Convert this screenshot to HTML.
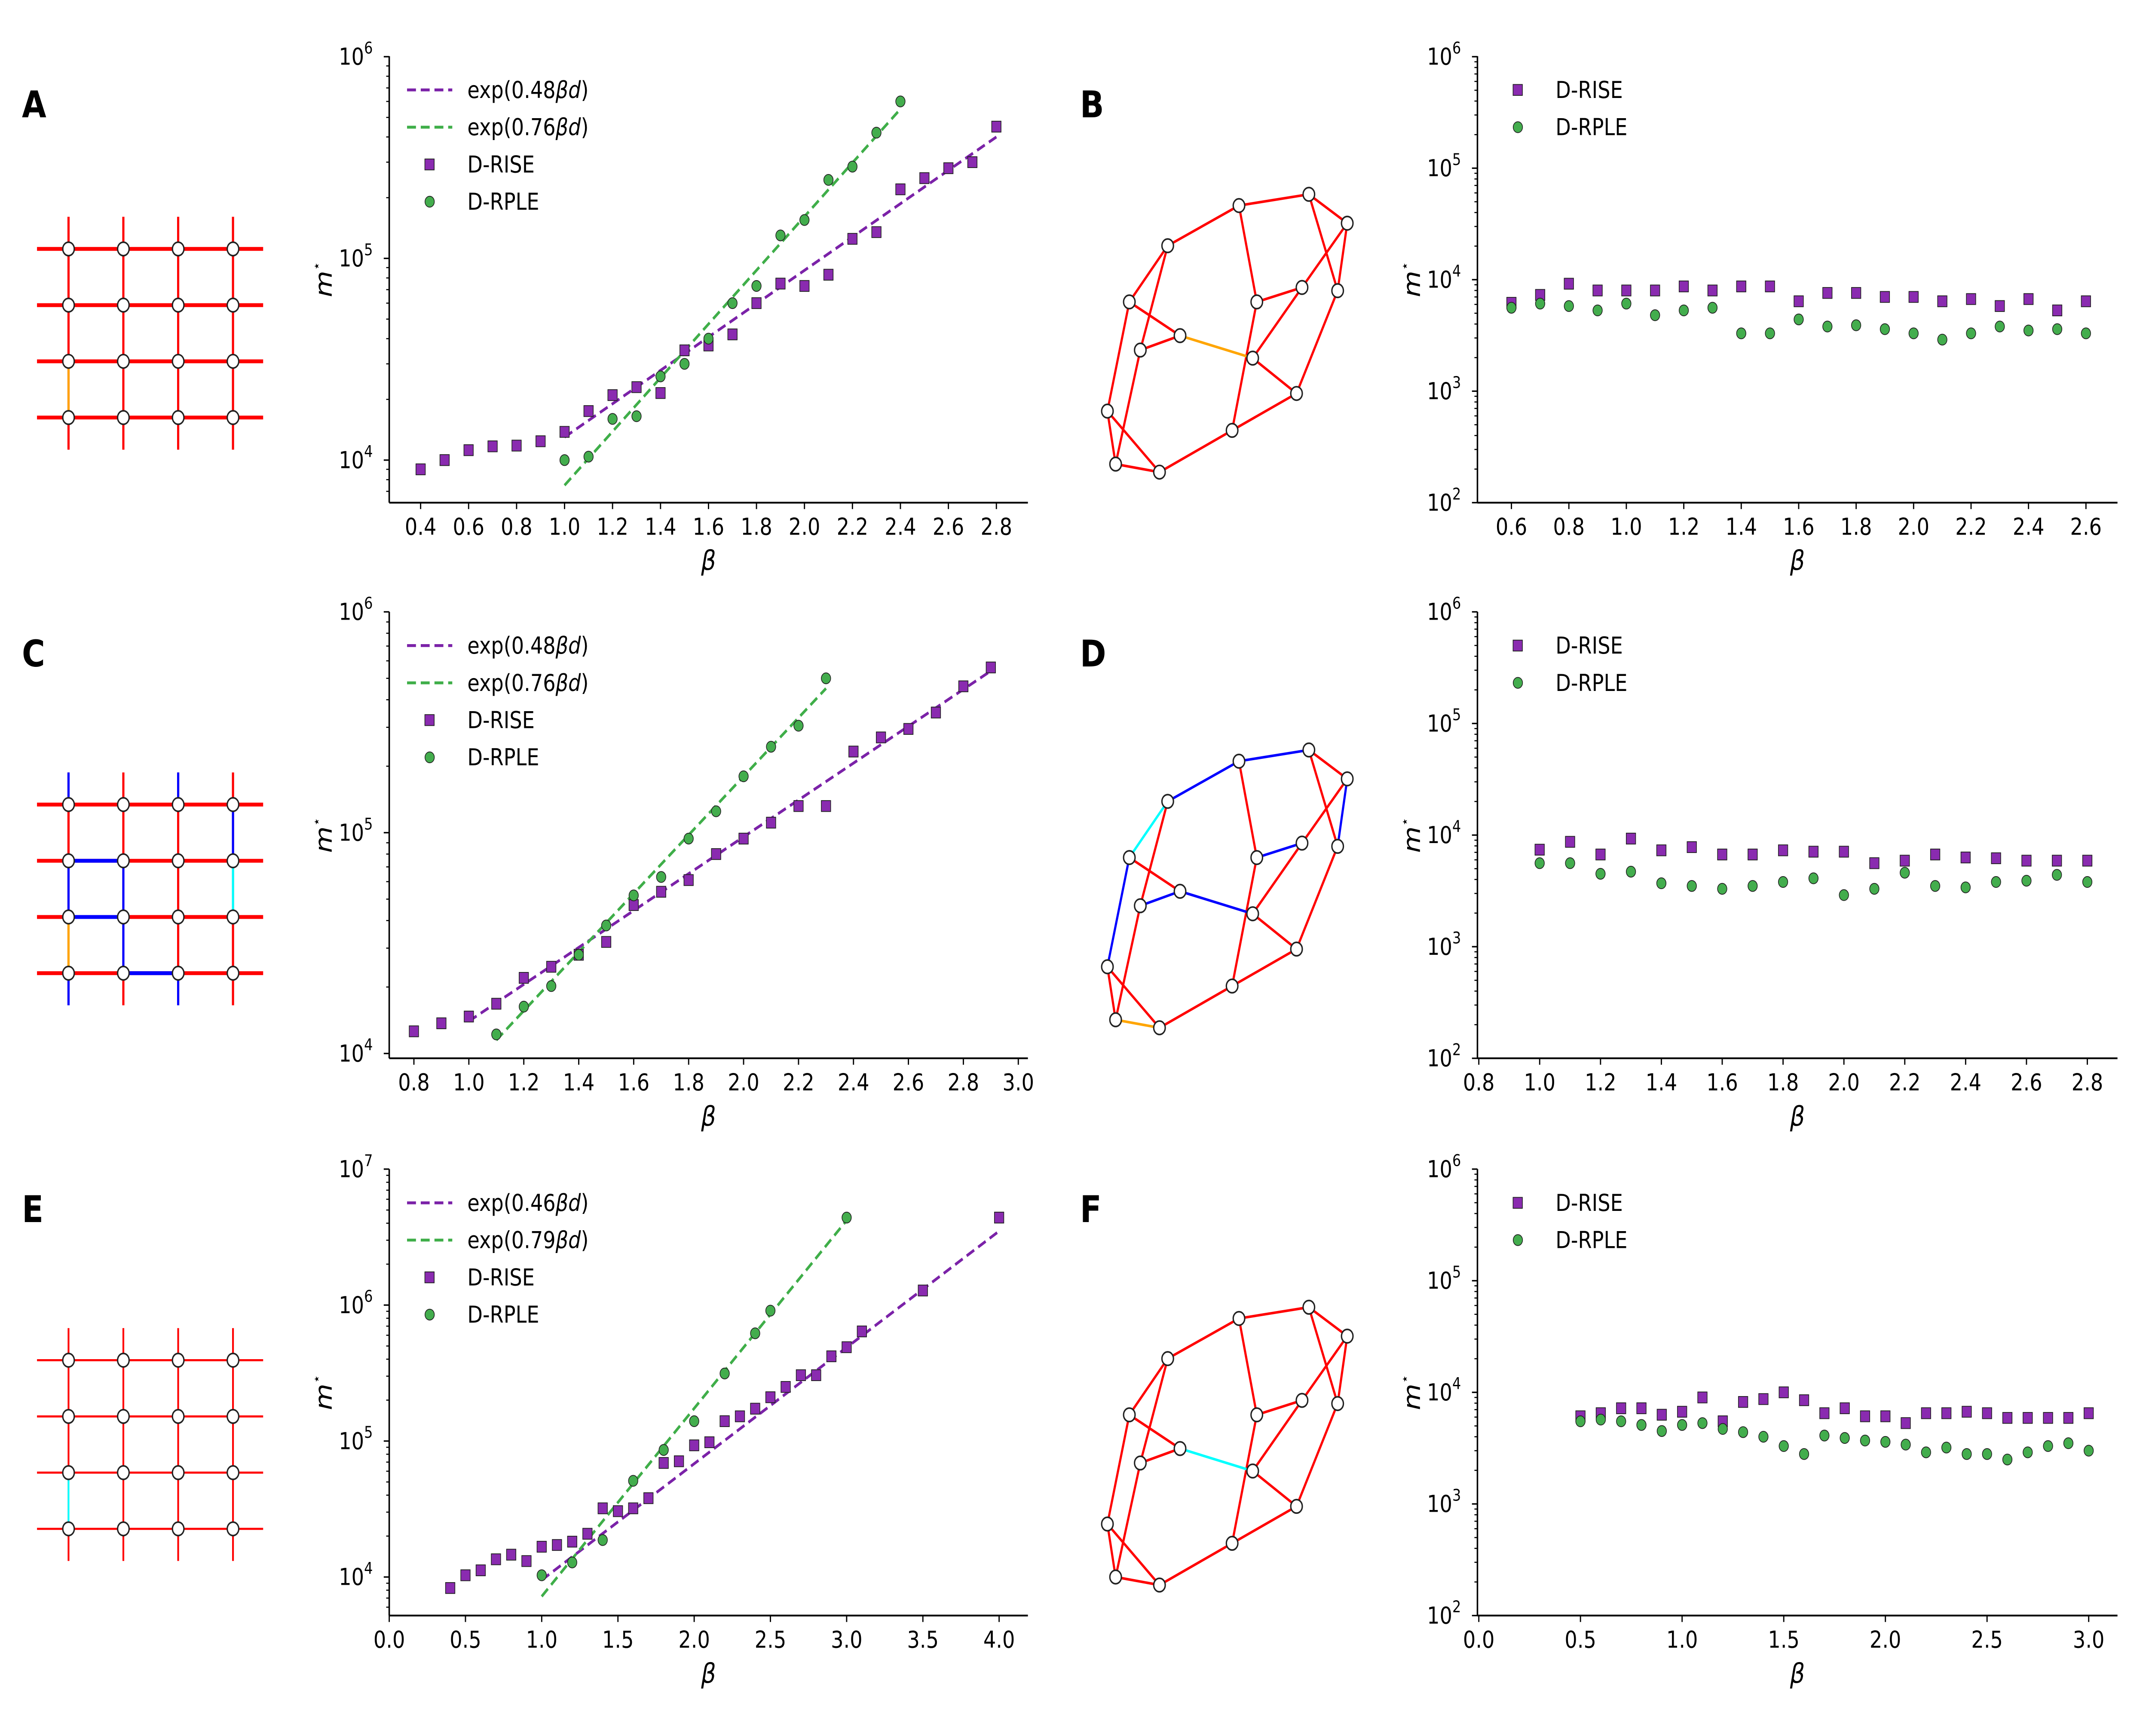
<!DOCTYPE html>
<html><head><meta charset="utf-8">
<style>
html,body{margin:0;padding:0;background:#fff;overflow:hidden;width:100%;height:100%;}
svg{display:block;position:fixed;left:0;top:0;width:100vw;height:100vh;}
text{font-family:"DejaVu Sans","Liberation Sans",sans-serif;fill:#000;}
</style></head>
<body>
<svg id="fig" viewBox="0 0 1568 1081" preserveAspectRatio="none" xmlns="http://www.w3.org/2000/svg">
<rect width="1568" height="1081" fill="#fff"/>
<g id="graphs"></g>
<g id="charts"></g>
</svg>
<script>
// ---------- data ----------
const aBeta = [0.4,0.5,0.6,0.7,0.8,0.9,1.0,1.1,1.2,1.3,1.4,1.5,1.6,1.7,1.8,1.9,2.0,2.1,2.2,2.3,2.4,2.5,2.6,2.7,2.8];
const aRise = [9000,10000,11200,11700,11800,12400,13800,17500,21000,23000,21500,35000,37000,42000,60000,75000,73000,83000,125000,135000,220000,250000,280000,300000,450000];
const aRpleBeta = [1.0,1.1,1.2,1.3,1.4,1.5,1.6,1.7,1.8,1.9,2.0,2.1,2.2,2.3,2.4];
const aRple = [10000,10400,16000,16500,26000,30000,40000,60000,73000,130000,155000,245000,285000,420000,600000];
const aFitRise = [[1.0,13000],[2.8,400000]];
const aFitRple = [[1.0,7500],[2.4,550000]];

const bBeta = [0.6,0.7,0.8,0.9,1.0,1.1,1.2,1.3,1.4,1.5,1.6,1.7,1.8,1.9,2.0,2.1,2.2,2.3,2.4,2.5,2.6];
const bRise = [6200,7300,9200,8000,8000,8000,8700,8000,8700,8700,6400,7600,7600,7000,7000,6400,6700,5800,6700,5300,6400];
const bRple = [5600,6100,5800,5300,6100,4800,5300,5600,3300,3300,4400,3800,3900,3600,3300,2900,3300,3800,3500,3600,3300];

const cBeta = [0.8,0.9,1.0,1.1,1.2,1.3,1.4,1.5,1.6,1.7,1.8,1.9,2.0,2.1,2.2,2.3,2.4,2.5,2.6,2.7,2.8,2.9];
const cRise = [12600,13700,14700,16800,22000,24700,28000,32000,47000,54000,61000,80000,94000,111000,132000,132000,233000,270000,295000,350000,460000,560000];
const cRpleBeta = [1.1,1.2,1.3,1.4,1.5,1.6,1.7,1.8,1.9,2.0,2.1,2.2,2.3];
const cRple = [12200,16300,20200,28000,38000,52000,63000,94000,125000,180000,245000,305000,500000];
const cFitRise = [[1.0,14000],[2.9,540000]];
const cFitRple = [[1.1,11500],[2.3,450000]];

const dBeta = [1.0,1.1,1.2,1.3,1.4,1.5,1.6,1.7,1.8,1.9,2.0,2.1,2.2,2.3,2.4,2.5,2.6,2.7,2.8];
const dRise = [7400,8700,6700,9300,7300,7800,6700,6700,7300,7100,7100,5600,5900,6700,6300,6200,5900,5900,5900];
const dRple = [5600,5600,4500,4700,3700,3500,3300,3500,3800,4100,2900,3300,4600,3500,3400,3800,3900,4400,3800];

const eBeta = [0.4,0.5,0.6,0.7,0.8,0.9,1.0,1.1,1.2,1.3,1.4,1.5,1.6,1.7,1.8,1.9,2.0,2.1,2.2,2.3,2.4,2.5,2.6,2.7,2.8,2.9,3.0,3.1,3.5,4.0];
const eRise = [8300,10300,11200,13500,14600,13100,16700,17200,18200,20800,32000,30500,32000,38000,69000,71000,93000,98000,140000,152000,173000,210000,250000,305000,305000,420000,490000,640000,1280000,4400000];
const eRpleBeta = [1.0,1.2,1.4,1.6,1.8,2.0,2.2,2.4,2.5,3.0];
const eRple = [10300,12800,18700,51000,86000,140000,314000,620000,910000,4400000];
const eFitRise = [[1.0,9500],[4.0,3500000]];
const eFitRple = [[1.0,7200],[3.0,4200000]];

const fBeta = [0.5,0.6,0.7,0.8,0.9,1.0,1.1,1.2,1.3,1.4,1.5,1.6,1.7,1.8,1.9,2.0,2.1,2.2,2.3,2.4,2.5,2.6,2.7,2.8,2.9,3.0];
const fRise = [6100,6500,7200,7200,6300,6700,9000,5500,8200,8700,10000,8500,6500,7200,6100,6100,5300,6500,6500,6700,6500,5900,5900,5900,5900,6500];
const fRple = [5500,5700,5500,5100,4500,5100,5300,4700,4400,4000,3300,2800,4100,3900,3700,3600,3400,2900,3200,2800,2800,2500,2900,3300,3500,3000];

const xTicksA = ["0.4","0.6","0.8","1.0","1.2","1.4","1.6","1.8","2.0","2.2","2.4","2.6","2.8"];
const xTicksB = ["0.6","0.8","1.0","1.2","1.4","1.6","1.8","2.0","2.2","2.4","2.6"];
const xTicksC = ["0.8","1.0","1.2","1.4","1.6","1.8","2.0","2.2","2.4","2.6","2.8","3.0"];
const xTicksD = ["0.8","1.0","1.2","1.4","1.6","1.8","2.0","2.2","2.4","2.6","2.8"];
const xTicksE = ["0.0","0.5","1.0","1.5","2.0","2.5","3.0","3.5","4.0"];
const xTicksF = ["0.0","0.5","1.0","1.5","2.0","2.5","3.0"];
const yDecA = [4,5,6], yDecB=[2,3,4,5,6], yDecC=[4,5,6], yDecE=[4,5,6,7];

const legFit = {A:["0.48","0.76"], C:["0.48","0.76"], E:["0.46","0.79"]};

// ---------- drawing ----------
const NS="http://www.w3.org/2000/svg";
const PURPLE="#8a2bb0", GREEN="#43ad4d", FPURPLE="#7b22a8", FGREEN="#3fae49";
function mk(tag,attrs,parent){const e=document.createElementNS(NS,tag);for(const k in attrs)e.setAttribute(k,attrs[k]);parent.appendChild(e);return e;}
const charts=document.getElementById('charts');

function panel(cfg){
  const g=mk('g',{},charts);
  
  
  const X=v=>cfg.xa[1]+(v-cfg.xa[0])*(cfg.xb[1]-cfg.xa[1])/(cfg.xb[0]-cfg.xa[0]);
  const YL=l=>cfg.ya[1]+(l-cfg.ya[0])*(cfg.yb[1]-cfg.ya[1])/(cfg.yb[0]-cfg.ya[0]);
  const ax=mk('g',{},g);
  
  
  mk('line',{x1:cfg.L,y1:cfg.T,x2:cfg.L,y2:cfg.B,stroke:'#000','stroke-width':1.1},ax);
  mk('line',{x1:cfg.L,y1:cfg.B,x2:cfg.R,y2:cfg.B,stroke:'#000','stroke-width':1.1},ax);
  cfg.xt.forEach(s=>{const v=parseFloat(s),px=X(v);
    mk('line',{x1:px,y1:cfg.B,x2:px,y2:cfg.B+4,stroke:'#000','stroke-width':0.9},ax);
    const t=mk('text',{x:px,y:cfg.B+20,'font-size':14.5,'text-anchor':'middle'},ax);t.textContent=s;
    
    
  });
  const lmin=cfg.ya[0]+(cfg.B-cfg.ya[1])/((cfg.yb[1]-cfg.ya[1])/(cfg.yb[0]-cfg.ya[0]));
  cfg.yd.forEach(d=>{const py=YL(d);
    mk('line',{x1:cfg.L-4,y1:py,x2:cfg.L,y2:py,stroke:'#000','stroke-width':0.9},ax);
    const t=mk('text',{x:cfg.L-12,y:py+5,'font-size':14.5,'text-anchor':'end'},ax);
    
    
    t.appendChild(document.createTextNode('10'));
    const s=mk('tspan',{'font-size':10,dy:-7},t);s.textContent=String(d);
  });
  const dmax=cfg.yd[cfg.yd.length-1];
  for(let d=Math.floor(lmin);d<dmax;d++){for(let k=2;k<10;k++){const l=d+Math.log10(k);if(l<lmin)continue;const py=YL(l);
    mk('line',{x1:cfg.L-2.2,y1:py,x2:cfg.L,y2:py,stroke:'#000','stroke-width':0.7},ax);}}
  const yl=mk('text',{x:0,y:0,'font-size':17,'font-style':'italic','text-anchor':'middle',transform:`translate(${cfg.L-42},${(cfg.T+cfg.B)/2}) rotate(-90)`},g);
  
  
  yl.appendChild(document.createTextNode('m'));
  const st=mk('tspan',{'font-size':9,dy:-8,'font-style':'normal'},yl);st.textContent='\u22C6';
  const xl=mk('text',{x:(cfg.L+cfg.R)/2,y:cfg.B+42,'font-size':17,'font-style':'italic','text-anchor':'middle'},g);
  xl.textContent='\u03B2';
  
  
  const dash='6.5,3.5';
  if(cfg.fitR){mk('line',{x1:X(cfg.fitR[0][0]),y1:YL(Math.log10(cfg.fitR[0][1])),x2:X(cfg.fitR[1][0]),y2:YL(Math.log10(cfg.fitR[1][1])),stroke:FPURPLE,'stroke-width':1.8,'stroke-dasharray':dash},g);}
  if(cfg.fitP){mk('line',{x1:X(cfg.fitP[0][0]),y1:YL(Math.log10(cfg.fitP[0][1])),x2:X(cfg.fitP[1][0]),y2:YL(Math.log10(cfg.fitP[1][1])),stroke:FGREEN,'stroke-width':1.8,'stroke-dasharray':dash},g);}
  cfg.rb.forEach((b,i)=>{const r=mk('rect',{x:X(b)-3.4,y:YL(Math.log10(cfg.rv[i]))-3.4,width:6.8,height:6.8,fill:PURPLE,stroke:'#222','stroke-width':0.5},g);
    
    });
  cfg.pb.forEach((b,i)=>{const c=mk('circle',{cx:X(b),cy:YL(Math.log10(cfg.pv[i])),r:3.4,fill:GREEN,stroke:'#222','stroke-width':0.5},g);
    
    });
  const lg=mk('g',{},g);
  
  
  let ly=cfg.T+21, lx=cfg.L+13;
  const items=[];
  if(cfg.fit){items.push(['line',FPURPLE,cfg.fit[0]]);items.push(['line',FGREEN,cfg.fit[1]]);}
  items.push(['sq',PURPLE,'D-RISE']);items.push(['ci',GREEN,'D-RPLE']);
  items.forEach((it,i)=>{const y=ly+i*23.2;
    if(it[0]==='line')mk('line',{x1:lx,y1:y,x2:lx+33,y2:y,stroke:it[1],'stroke-width':1.8,'stroke-dasharray':dash},lg);
    else if(it[0]==='sq')mk('rect',{x:lx+13,y:y-3.4,width:6.8,height:6.8,fill:it[1],stroke:'#222','stroke-width':0.5},lg);
    else mk('circle',{cx:lx+16.5,cy:y,r:3.4,fill:it[1],stroke:'#222','stroke-width':0.5},lg);
    const t=mk('text',{x:lx+44,y:y+5,'font-size':14.5},lg);
    
    
    if(it[0]==='line'){t.appendChild(document.createTextNode('exp('+it[2]));const s=mk('tspan',{'font-style':'italic'},t);s.textContent='\u03B2d';t.appendChild(document.createTextNode(')'));}
    else t.textContent=it[2];
  });
}
panel({name:'chart-a',L:284,R:750,T:35,B:313,xa:[0.4,306.9],xb:[2.8,727],ya:[4,286.5],yb:[6,35.3],xt:xTicksA,yd:yDecA,rb:aBeta,rv:aRise,pb:aRpleBeta,pv:aRple,fitR:aFitRise,fitP:aFitRple,fit:legFit.A});
panel({name:'chart-b',L:1078,R:1545,T:35,B:313,xa:[0.6,1102.8],xb:[2.6,1522],ya:[2,313],yb:[6,35.3],xt:xTicksB,yd:yDecB,rb:bBeta,rv:bRise,pb:bBeta,pv:bRple});
panel({name:'chart-c',L:284,R:750,T:381,B:659,xa:[0.8,302],xb:[3.0,743],ya:[4,656],yb:[6,381],xt:xTicksC,yd:yDecC,rb:cBeta,rv:cRise,pb:cRpleBeta,pv:cRple,fitR:cFitRise,fitP:cFitRple,fit:legFit.C});
panel({name:'chart-d',L:1078,R:1545,T:381,B:659,xa:[0.8,1079],xb:[2.8,1523],ya:[2,659],yb:[6,381],xt:xTicksD,yd:yDecB,rb:dBeta,rv:dRise,pb:dBeta,pv:dRple});
panel({name:'chart-e',L:284,R:750,T:728,B:1006,xa:[0,284],xb:[4,729],ya:[4,982],yb:[7,728],xt:xTicksE,yd:yDecE,rb:eBeta,rv:eRise,pb:eRpleBeta,pv:eRple,fitR:eFitRise,fitP:eFitRple,fit:legFit.E});
panel({name:'chart-f',L:1078,R:1545,T:728,B:1006,xa:[0,1079],xb:[3,1524],ya:[2,1006],yb:[6,728],xt:xTicksF,yd:yDecB,rb:fBeta,rv:fRise,pb:fBeta,pv:fRple});

// ---------- graph drawings ----------
const gr=document.getElementById('graphs');
function letter(s,x,y){const t=mk('text',{x:x,y:y,'font-size':23,'font-weight':'bold'},gr);t.textContent=s;
  
  }
[['A',16,73],['B',788,73],['C',16,415],['D',788,415],['E',16,761],['F',788,761]].forEach(a=>letter(a[0],a[1],a[2]));

const colsX=[50,90,130,170];
function grid(oy,hw,vw,special){
  const g=mk('g',{},gr);
  
  
  const rows=[155,190,225,260].map(r=>r+oy);
  colsX.forEach(x=>mk('line',{x1:x,y1:rows[0]-20,x2:x,y2:rows[3]+20,stroke:'red','stroke-width':vw},g));
  rows.forEach(y=>mk('line',{x1:27,y1:y,x2:192,y2:y,stroke:'red','stroke-width':hw},g));
  special.forEach(s=>mk('line',{x1:s[0],y1:s[1]+oy,x2:s[2],y2:s[3]+oy,stroke:s[4],'stroke-width':s[5]||hw},g));
  rows.forEach(y=>colsX.forEach(x=>mk('circle',{cx:x,cy:y,r:4.2,fill:'#fff',stroke:'#222','stroke-width':1},g)));
}
grid(0,2.4,1.6,[[50,225,50,260,'orange',1.5]]);
grid(346,2.4,1.6,[[50,135,50,155,'blue',1.6],[50,155,50,190,'red',1.6],[50,190,50,225,'blue',1.6],[50,225,50,260,'orange',1.6],[50,260,50,280,'blue',1.6],
  [130,135,130,155,'blue',1.6],[130,260,130,280,'blue',1.6],[170,155,170,190,'blue',1.6],[170,190,170,225,'cyan',1.6],
  [50,190,90,190,'blue',2.4],[50,225,90,225,'blue',2.4],[90,190,90,225,'blue',1.6],[90,225,90,260,'blue',1.6],[90,260,130,260,'blue',2.4]]);
grid(692,1.3,1.3,[[50,225,50,260,'cyan',1.3]]);

const nodes=[[852,153],[904,128],[955,121],[983,139],[824,188],[917,188],[950,179],[976,181],[861,209],[832,218],[914,223],[946,245],[808,256],[899,268],[814,289],[846,294]];
const edges=[[1,2],[2,3],[3,4],[1,5],[1,10],[5,9],[9,10],[5,13],[13,15],[13,16],[15,16],[10,15],[2,6],[6,14],[6,7],[7,4],[7,11],[4,8],[3,8],[8,12],[11,12],[14,16],[14,12],[9,11]];
function rgraph(oy,colors){
  const g=mk('g',{},gr);
  
  
  edges.forEach(e=>{const a=nodes[e[0]-1],b=nodes[e[1]-1];const k=e[0]+'-'+e[1];
    mk('line',{x1:a[0],y1:a[1]+oy,x2:b[0],y2:b[1]+oy,stroke:colors[k]||'red','stroke-width':1.6},g);});
  nodes.forEach(n=>mk('circle',{cx:n[0],cy:n[1]+oy,r:4.2,fill:'#fff',stroke:'#222','stroke-width':1},g));
}
rgraph(0,{'9-11':'orange'});
rgraph(346,{'1-2':'blue','2-3':'blue','4-8':'blue','6-7':'blue','9-11':'blue','5-13':'blue','9-10':'blue','1-5':'cyan','15-16':'orange'});
rgraph(693,{'9-11':'cyan'});
</script>
</body></html>
